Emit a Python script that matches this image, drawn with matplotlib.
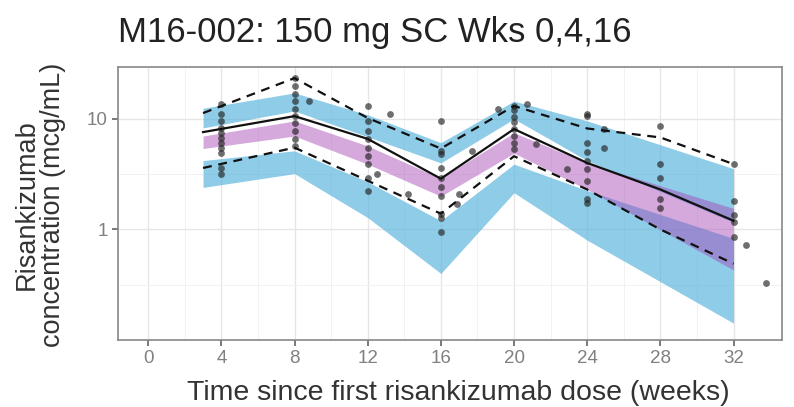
import numpy as np
import matplotlib
matplotlib.use("Agg")
import matplotlib.pyplot as plt

plt.rcParams['font.family'] = ['Liberation Sans', 'DejaVu Sans']

# ---- data ----
bin_x = [3, 8, 12, 16, 20, 24, 32]
pi95_lo = [8.3, 11.8, 6.9, 4.0, 10.0, 4.2, 1.16]
pi95_hi = [12.5, 17.2, 10.9, 6.1, 14.5, 9.6, 3.55]
pi50_lo = [5.4, 7.0, 3.9, 2.0, 4.9, 2.3, 0.43]
pi50_hi = [7.0, 9.6, 5.7, 2.9, 7.5, 4.0, 1.55]
pi05_lo = [2.4, 3.2, 1.28, 0.40, 2.15, 0.8, 0.142]
pi05_hi = [4.2, 5.15, 2.7, 1.2, 3.9, 2.25, 0.83]

obs_x = [3, 8, 12, 16, 20, 24, 28, 32]
obs_median = [7.6, 10.6, 6.6, 2.88, 8.1, 4.0, 2.3, 1.2]
obs_p95 = [11.3, 23.4, 10.2, 5.4, 13.1, 8.2, 6.8, 3.9]
obs_p05 = [3.6, 5.5, 2.76, 1.39, 4.6, 2.3, 1.0, 0.49]

pts_time = ([4]*11 + [8]*10 + [8.8] + [12]*9 + [13.2, 12.5] + [16]*10 +
            [14.2, 16.9, 17.7, 17.0] + [20]*8 + [19.1, 20.7, 21.2, 22.9] +
            [24]*9 + [24.9, 24.9] + [28]*5 + [32]*5 + [32.7, 33.8])
pts_conc = ([13.6, 11.1, 9.6, 8.3, 7.5, 6.7, 6.1, 5.5, 4.9, 3.6, 3.2] +
            [23.4, 19.8, 16.8, 14.5, 12.3, 10.6, 9.2, 7.8, 6.6, 5.7] + [14.5] +
            [13.1, 9.6, 7.8, 6.6, 5.5, 4.6, 3.9, 2.9, 2.25] + [11.1, 3.2] +
            [9.6, 5.15, 4.8, 3.6, 2.94, 2.4, 2.0, 1.39, 1.26, 0.94] +
            [2.1, 1.7, 5.15, 2.1] +
            [13.1, 12.0, 10.5, 9.3, 8.1, 7.0, 6.1, 5.3] + [12.3, 13.6, 5.9, 3.5] +
            [11.0, 10.6, 6.0, 5.0, 4.2, 3.5, 2.76, 1.9, 1.75] + [8.1, 5.5] +
            [8.6, 3.9, 2.94, 1.9, 1.55] +
            [3.9, 1.82, 1.34, 1.16, 0.85] + [0.72, 0.33])

x_ticks = [0, 4, 8, 12, 16, 20, 24, 28, 32]
y_ticks = [1, 10]
y_ticklabels = ["1", "10"]

# ---- figure ----
W, H = 794, 407
fig = plt.figure(figsize=(W / 100, H / 100), dpi=100)
ax = fig.add_axes([118 / W, 1 - 340 / H, (782 - 118) / W, (340 - 67) / H])

blue = "#4BAEDA"
pink = "#A542B5"
ax.fill_between(bin_x, pi95_lo, pi95_hi, color=blue, alpha=0.62, lw=0, zorder=2)
ax.fill_between(bin_x, pi05_lo, pi05_hi, color=blue, alpha=0.62, lw=0, zorder=2)
ax.fill_between(bin_x, pi50_lo, pi50_hi, color=pink, alpha=0.45, lw=0, zorder=3)

ax.scatter(pts_time, pts_conc, s=24, color="#222222", alpha=0.65, lw=0, zorder=4)

ax.plot(obs_x, obs_median, color="#111111", lw=1.6, zorder=5)
ax.plot(obs_x, obs_p95, color="#111111", lw=1.6, ls=(0, (4, 3)), zorder=5)
ax.plot(obs_x, obs_p05, color="#111111", lw=1.6, ls=(0, (4, 3)), zorder=5)

ax.set_yscale("log")
ax.set_xlim(-1.65, 34.65)
ax.set_ylim(0.1, 29.5)
ax.set_xticks(x_ticks)
ax.set_xticks(np.arange(2, 34, 4), minor=True)
ax.set_yticks(y_ticks)
ax.set_yticklabels(y_ticklabels)
ax.set_yticks([10**-0.5, 10**0.5], minor=True)
ax.yaxis.set_minor_formatter(matplotlib.ticker.NullFormatter())

ax.grid(True, which="major", color="#E6E6E6", lw=1.0, zorder=0)
ax.grid(True, which="minor", color="#F2F2F2", lw=0.7, zorder=0)
ax.set_axisbelow(True)
ax.tick_params(which="minor", length=0)
ax.tick_params(which="major", length=4.5, color="#555555", labelcolor="#808080",
               labelsize=13.5, width=1.1, pad=3)
for s in ax.spines.values():
    s.set_color("#888888")
    s.set_linewidth(1.2)

fig.text(458 / W, 1 - 400 / H, "Time since first risankizumab dose (weeks)",
         fontsize=20.5, color="#333333", ha="center", va="baseline")
fig.text(40 / W, 1 - 205 / H, "Risankizumab\nconcentration (mcg/mL)",
         fontsize=19.5, color="#333333", rotation=90, ha="center", va="center",
         multialignment="center", linespacing=1.0)
fig.text(118 / W, 1 - 42 / H, "M16-002: 150 mg SC Wks 0,4,16", fontsize=25,
         color="#222222", ha="left", va="baseline")

fig.savefig("out.png", dpi=100)
